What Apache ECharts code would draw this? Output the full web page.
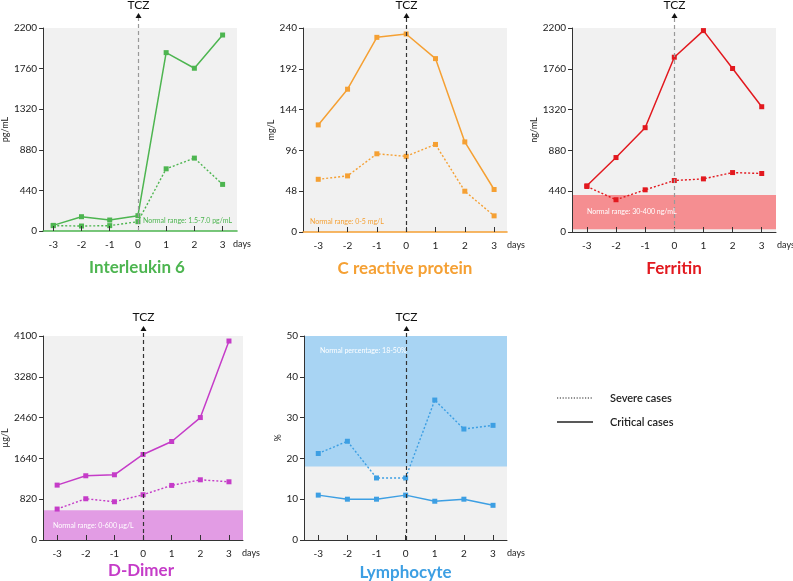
<!DOCTYPE html>
<html><head><meta charset="utf-8">
<script src="https://cdn.jsdelivr.net/npm/echarts@6/dist/echarts.min.js"></script>
<style>html,body{margin:0;padding:0;background:#fff}#c{width:793px;height:581px}</style>
</head><body><div id="c"></div>
<script>
// ---- data ----
const days = [-3, -2, -1, 0, 1, 2, 3];
const tczDay = 0;
const il6Critical = [61, 155, 119, 166, 1933, 1764, 2124];
const il6Severe   = [58, 54, 58, 101, 674, 790, 505];
const crpCritical = [126, 168, 229, 233, 204, 106, 50];
const crpSevere   = [62, 66, 92, 89, 103, 48, 19];
const ferCritical = [498, 803, 1125, 1885, 2172, 1763, 1351];
const ferSevere   = [491, 348, 455, 555, 573, 641, 631];
const ddCritical  = [1103, 1291, 1311, 1719, 1980, 2461, 3999];
const ddSevere    = [622, 829, 769, 910, 1097, 1210, 1170];
const lymCritical = [11, 10, 10, 11, 9.5, 10, 8.5];
const lymSevere   = [21.2, 24.2, 15.2, 15.2, 34.3, 27.2, 28.1];
const titles = ['Interleukin 6', 'C reactive protein', 'Ferritin', 'D-Dimer', 'Lymphocyte'];
const units = ['pg/mL', 'mg/L', 'ng/mL', 'µg/L', '%'];
const yMaxes = [2200, 240, 2200, 4100, 50];
const normalBands = [null, null, [30, 400], [0, 600], [18, 50]];
const normalTexts = ['Normal range: 1.5-7.0 pg/mL', 'Normal range: 0-5 mg/L', 'Normal range: 30-400 ng/mL', 'Normal range: 0-600 µg/L', 'Normal percentage: 18-50%'];
const legendNames = ['Severe cases', 'Critical cases'];

// ---- layout / style ----
const FONT = 'Lato, "Open Sans", sans-serif';
const colors = ['#4db550', '#f5a033', '#e2191f', '#c53cc8', '#3d9fe3'];
const bandColors = [null, null, '#f58e91', '#e29ce4', '#a8d4f3'];
const tczColors = ['#999', '#333', '#999', '#333', '#333'];
const grids = [
  {left: 37, top: 28, width: 200, height: 203},
  {left: 303, top: 28, width: 204, height: 204},
  {left: 572, top: 28, width: 204, height: 204},
  {left: 39, top: 336, width: 204, height: 204},
  {left: 304, top: 336, width: 203, height: 204}
];
const xRanges = [[-3.36, 3.51], [-3.52, 3.44], [-3.51, 3.49], [-3.49, 3.49], [-3.49, 3.48]];
const nameGaps = [24, 22, 21, 27, 18];
const titleGap = [37, 37, 37, 31, 33];
const daysOffset = [-4, 0, 1, -1, 0];
const tczTip = [15, 15, 15, 10, 10];
const tczText = [23, 23, 23, 19, 19];
const seriesData = [
  [il6Severe, il6Critical], [crpSevere, crpCritical], [ferSevere, ferCritical],
  [ddSevere, ddCritical], [lymSevere, lymCritical]
];

const xAxis = [], yAxis = [], series = [], graphic = [];
grids.forEach((g, i) => {
  const axisColor = '#333';
  xAxis.push({
    gridIndex: i, type: 'value', min: xRanges[i][0], max: xRanges[i][1], z: 5,
    axisLine: {show: true, onZero: false, lineStyle: {color: i === 0 ? colors[0] : (i === 1 ? colors[1] : axisColor), width: i < 2 ? 1.6 : 1}},
    axisTick: {show: true, inside: true, length: 5, customValues: days, lineStyle: {color: axisColor}},
    axisLabel: {customValues: days, margin: 9, color: '#222', fontSize: 10, fontFamily: FONT},
    splitLine: {show: false}
  });
  yAxis.push({
    gridIndex: i, type: 'value', min: 0, max: yMaxes[i], interval: yMaxes[i] / 5, z: 5,
    name: units[i], nameLocation: 'middle', nameGap: nameGaps[i], nameRotate: 90,
    nameTextStyle: {fontSize: 9, color: '#222', fontFamily: FONT},
    axisLine: {show: true, onZero: false, lineStyle: {color: axisColor}},
    axisTick: {show: true, length: 4, lineStyle: {color: axisColor}},
    axisLabel: {margin: 6, color: '#222', fontSize: 10, fontFamily: FONT, formatter: v => String(v)},
    splitLine: {show: false}
  });
  const [sev, crit] = seriesData[i];
  series.push({
    name: legendNames[0], type: 'line', xAxisIndex: i, yAxisIndex: i, clip: false,
    data: days.map((d, k) => [d, sev[k]]),
    symbol: 'rect', symbolSize: 5, z: 3,
    itemStyle: {color: colors[i]},
    lineStyle: {color: colors[i], width: 1.4, type: [2, 2]},
    markArea: normalBands[i] ? {
      silent: true, z: 1,
      itemStyle: {color: bandColors[i], opacity: 1},
      data: [[{yAxis: normalBands[i][0]}, {yAxis: normalBands[i][1]}]]
    } : undefined
  });
  series.push({
    name: legendNames[1], type: 'line', xAxisIndex: i, yAxisIndex: i, clip: false,
    data: days.map((d, k) => [d, crit[k]]),
    symbol: 'rect', symbolSize: 5, z: 4,
    itemStyle: {color: colors[i]},
    lineStyle: {color: colors[i], width: 1.5}
  });
  graphic.push({
    type: 'text', x: g.left + g.width / 2, y: g.top + g.height + titleGap[i], z: 10,
    style: {text: titles[i], fill: colors[i], font: 'bold 17px ' + FONT, textAlign: 'center', textVerticalAlign: 'middle'}
  });
  graphic.push({
    type: 'text', x: g.left + g.width + daysOffset[i], y: g.top + g.height + 13, z: 10,
    style: {text: 'days', fill: '#222', font: '9px ' + FONT, textAlign: 'left', textVerticalAlign: 'middle'}
  });
});
const nt = [
  {x: 232, y: 221, align: 'right', fill: colors[0]},
  {x: 310, y: 222, align: 'left', fill: colors[1]},
  {x: 587, y: 212, align: 'left', fill: '#fff'},
  {x: 53, y: 526, align: 'left', fill: '#fff'},
  {x: 320, y: 351, align: 'left', fill: '#fff'}
];
nt.forEach((t, i) => graphic.push({
  type: 'text', x: t.x, y: t.y, z: 10,
  style: {text: normalTexts[i], fill: t.fill, font: '7px ' + FONT, textAlign: t.align, textVerticalAlign: 'middle'}
}));
graphic.push({type: 'line', shape: {x1: 557, y1: 398, x2: 593, y2: 398}, style: {stroke: '#222', lineWidth: 1.2, lineDash: [1.2, 1.6]}});
graphic.push({type: 'line', shape: {x1: 557, y1: 422, x2: 593, y2: 422}, style: {stroke: '#222', lineWidth: 1.5}});
graphic.push({type: 'text', x: 610, y: 398, style: {text: legendNames[0], fill: '#222', font: '600 11px ' + FONT, textVerticalAlign: 'middle'}});
graphic.push({type: 'text', x: 610, y: 422, style: {text: legendNames[1], fill: '#222', font: '600 11px ' + FONT, textVerticalAlign: 'middle'}});

const chart = echarts.init(document.getElementById('c'), null, {renderer: 'canvas'});
chart.setOption({
  animation: false,
  backgroundColor: '#fff',
  grid: grids.map(g => Object.assign({show: true, backgroundColor: '#f1f1f1', borderWidth: 0, containLabel: false}, g)),
  xAxis, yAxis, series, graphic
});

// TCZ markers: x position from the axis scale
grids.forEach((g, i) => {
  const p0 = chart.convertToPixel({xAxisIndex: i, yAxisIndex: i}, [tczDay, 0]);
  const p1 = chart.convertToPixel({xAxisIndex: i, yAxisIndex: i}, [tczDay, yMaxes[i]]);
  const x = Math.round(p0[0]) + 0.5;
  const tipY = p1[1] - tczTip[i];
  graphic.push({type: 'line', z: 6, shape: {x1: x, y1: p0[1], x2: x, y2: tipY + 5}, style: {stroke: tczColors[i], lineWidth: 1.2, lineDash: [4, 3]}});
  graphic.push({type: 'polygon', z: 6, shape: {points: [[x, tipY], [x - 3, tipY + 5], [x + 3, tipY + 5]]}, style: {fill: '#111'}});
  graphic.push({type: 'text', z: 6, x: x, y: p1[1] - tczText[i], style: {text: 'TCZ', fill: '#111', font: '12px ' + FONT, textAlign: 'center', textVerticalAlign: 'middle'}});
});
chart.setOption({graphic});
</script>
</body></html>
